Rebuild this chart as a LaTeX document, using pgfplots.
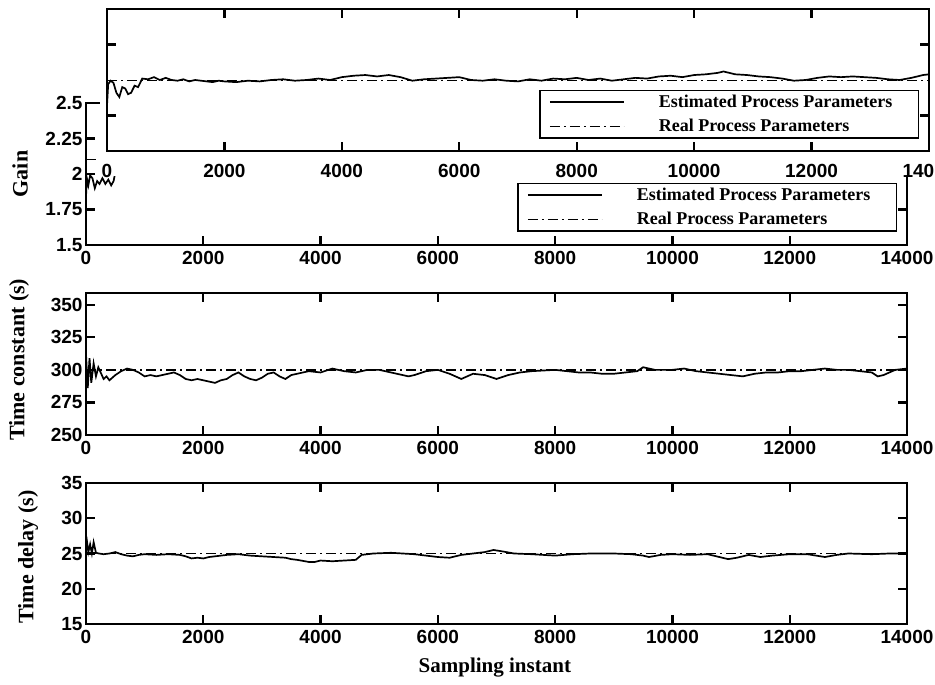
\documentclass[border=0pt]{standalone}
\usepackage{fontspec}
\setmainfont{Liberation Serif}
\newfontfamily\arialfont{Liberation Sans}
\usepackage{pgfplots}
\pgfplotsset{compat=1.18}

\pgfplotstableread{
s v
0 2.57
20 2.72
60 2.745
110 2.73
160 2.66
210 2.63
260 2.70
310 2.69
360 2.65
410 2.66
470 2.71
530 2.70
600 2.76
700 2.755
800 2.77
900 2.75
1000 2.765
1100 2.75
1200 2.745
1300 2.755
1400 2.74
1500 2.75
1600 2.745
1700 2.74
1800 2.735
1900 2.745
2000 2.74
2200 2.735
2400 2.745
2600 2.74
2800 2.75
3000 2.755
3200 2.745
3400 2.75
3600 2.76
3800 2.75
4000 2.77
4200 2.78
4400 2.785
4600 2.775
4800 2.785
5000 2.77
5200 2.745
5400 2.755
5600 2.76
5800 2.765
6000 2.77
6200 2.75
6400 2.745
6600 2.755
6800 2.745
7000 2.74
7200 2.755
7400 2.745
7600 2.76
7800 2.755
8000 2.765
8200 2.75
8400 2.76
8600 2.745
8800 2.755
9000 2.765
9200 2.76
9400 2.775
9600 2.78
9800 2.77
10000 2.785
10200 2.79
10400 2.80
10500 2.81
10700 2.79
10900 2.785
11100 2.775
11300 2.77
11500 2.76
11700 2.745
11900 2.75
12100 2.765
12300 2.775
12500 2.77
12700 2.775
12900 2.77
13100 2.765
13300 2.755
13500 2.75
13700 2.765
13900 2.785
14000 2.79
}\gaintop

\pgfplotstableread{
s v
0 1.84
15 1.97
40 1.92
70 1.99
110 1.97
150 1.90
190 1.95
230 1.93
280 1.97
330 1.93
380 1.96
430 1.92
470 1.95
520 2.05
600 2.10
2000 2.09
4000 2.11
6000 2.10
8000 2.11
10000 2.12
12000 2.10
14000 2.11
}\gainlow

\pgfplotstableread{
s v
0 312
30 286
60 309
90 290
130 305
170 295
210 302
250 298
300 293
350 295
400 292
450 294
500 296
600 299
700 301
800 300
900 298
1000 295
1100 296
1200 295
1300 296
1400 297
1500 298
1600 296
1700 293
1800 292
1900 293
2000 292
2100 291
2200 290
2300 292
2400 293
2500 296
2600 298
2700 295
2800 293
2900 292
3000 294
3100 297
3200 298
3300 295
3400 293
3500 296
3600 297
3800 299
4000 298
4200 301
4400 299
4600 298
4800 300
5000 300
5200 298
5400 296
5500 295
5600 296
5800 299
6000 300
6200 297
6300 295
6400 293
6600 297
6800 296
7000 293
7200 296
7400 298
7600 299
8000 300
8200 299
8400 298
8600 298
8800 297
9000 297
9200 298
9400 299
9500 302
9700 300
10000 300
10200 301
10400 299
10600 298
10800 297
11000 296
11200 295
11400 297
11600 298
11800 298
12000 299
12200 299
12400 300
12600 301
12800 300
13000 300
13200 299
13400 298
13500 295
13600 296
13800 300
14000 301
}\tconst

\pgfplotstableread{
s v
0 25.3
20 26.5
40 25.2
70 26.3
100 25.0
130 26.6
170 25.1
220 25.0
300 24.9
400 25.0
500 25.2
600 24.9
700 24.7
800 24.6
900 24.8
1000 24.9
1200 24.8
1400 24.9
1600 24.8
1700 24.6
1800 24.3
1900 24.4
2000 24.3
2100 24.5
2200 24.6
2400 24.8
2600 24.9
2800 24.7
3000 24.6
3200 24.5
3400 24.4
3500 24.2
3600 24.1
3800 23.8
3900 23.8
4000 24.0
4200 23.9
4400 24.0
4600 24.1
4700 24.8
4900 25.0
5200 25.1
5400 25.0
5600 24.9
5800 24.7
6000 24.5
6200 24.4
6400 24.8
6600 25.0
6800 25.2
6950 25.5
7100 25.3
7300 25.0
7600 24.9
8000 24.7
8300 24.9
8600 25.0
9000 25.0
9300 24.9
9500 24.7
9600 24.5
9800 24.8
10000 24.9
10300 24.8
10600 24.9
10800 24.5
10950 24.2
11100 24.4
11300 24.8
11500 24.5
11700 24.7
12000 24.9
12300 24.9
12600 24.5
12800 24.8
13000 25.0
13400 24.9
13700 25.0
14000 25.0
}\tdelay

% inward tick marks drawn explicitly on all four sides
\newcommand\mxticks{%
  \pgfplotsinvokeforeach{2000,4000,6000,8000,10000,12000}{%
    \draw[black, line width=2.2pt] ({axis cs:##1,0}|-{rel axis cs:0,0}) -- ++(0pt,9pt);
    \draw[black, line width=2.2pt] ({axis cs:##1,0}|-{rel axis cs:0,1}) -- ++(0pt,-9pt);
  }}
\newcommand\myticks[1]{%
  \pgfplotsinvokeforeach{#1}{%
    \draw[black, line width=2.2pt] ({rel axis cs:0,0}|-{axis cs:0,##1}) -- ++(9pt,0pt);
    \draw[black, line width=2.2pt] ({rel axis cs:1,0}|-{axis cs:0,##1}) -- ++(-9pt,0pt);
  }}

\pgfplotsset{
  matlab/.style={
    scale only axis,
    anchor=south west,
    xmin=0, xmax=14000,
    xtick={0,2000,4000,6000,8000,10000,12000,14000},
    scaled x ticks=false,
    scaled y ticks=false,
    /pgf/number format/1000 sep={},
    /pgf/number format/assume math mode=true,
    xtick pos=both, ytick pos=both,
    xtick align=inside, ytick align=inside,
    major tick length=9pt,
    axis line style={line width=2pt},
    every tick/.style={black, line width=1.8pt},
    tick label style={font=\arialfont\bfseries\fontsize{19}{21}\selectfont},
    xticklabel style={yshift=-3pt},
    label style={font=\bfseries\fontsize{22}{24}\selectfont},
    legend image code/.code={\draw[##1] (0pt,0pt) -- (74pt,0pt);},
    legend cell align=left,
  },
  mleg/.style={legend style={at={(axis description cs:0.988,#1)}, anchor=south east,
    draw=black, line width=1.5pt, font=\bfseries\fontsize{18}{20}\selectfont,
    inner xsep=9pt, inner ysep=5pt, row sep=10pt, nodes={inner sep=0pt},
    /tikz/every odd column/.append style={column sep=34pt}}},
  est/.style={black, line width=1.7pt},
  real/.style={black, line width=1.4pt, dash pattern=on 10pt off 4pt on 2pt off 4pt},
}

\begin{document}
\begin{tikzpicture}
\useasboundingbox (0,0) rectangle (935pt,685pt);

% lower (original) gain axes
\begin{axis}[matlab, at={(86pt,440pt)}, width=821pt, height=142pt,
  ymin=1.5, ymax=2.5, ytick={1.5,1.75,2,2.25,2.5},
  ylabel={Gain}, ylabel style={at={(axis description cs:-0.0804,0.5)}, anchor=center},
  mleg=0.0915]
\addplot[est] table[x=s,y=v] {\gainlow};
\addlegendentry{Estimated Process Parameters\hspace*{17pt}}
\addplot[real] coordinates {(0,2.10) (14000,2.10)};
\addlegendentry{Real Process Parameters}
\mxticks
\myticks{1.75,2,2.25}
\end{axis}

% pasted-over white patch
\fill[white] (100pt,509pt) rectangle (935pt,685pt);

% overlay gain axes
\begin{axis}[matlab, at={(107pt,534pt)}, width=822pt, height=142pt,
  ymin=2.25, ymax=3.25, ytick={2.5,3}, yticklabels={},
  xticklabel style={yshift=-7pt},
  mleg=0.0845]
\addplot[est] table[x=s,y=v] {\gaintop};
\addlegendentry{Estimated Process Parameters\hspace*{17pt}}
\addplot[real] coordinates {(0,2.745) (14000,2.745)};
\addlegendentry{Real Process Parameters}
\mxticks
\myticks{2.5,3}
\end{axis}

% time constant
\begin{axis}[matlab, at={(86pt,250pt)}, width=821pt, height=142pt,
  ymin=250, ymax=359, ytick={250,275,300,325,350},
  ylabel={Time constant (s)}, ylabel style={at={(axis description cs:-0.0816,0.53)}, anchor=center}]
\addplot[real] coordinates {(0,300) (14000,300)};
\addplot[est] table[x=s,y=v] {\tconst};
\mxticks
\myticks{275,300,325,350}
\end{axis}

% time delay
\begin{axis}[matlab, at={(86pt,61pt)}, width=821pt, height=141pt,
  ymin=15, ymax=35, ytick={15,20,25,30,35},
  ylabel={Time delay (s)}, ylabel style={at={(axis description cs:-0.0706,0.475)}, anchor=center},
  xlabel={Sampling instant}, xlabel style={at={(axis description cs:0.498,-0.312)}, anchor=center, font=\bfseries\fontsize{21}{23}\selectfont}]
\addplot[real] coordinates {(0,25) (14000,25)};
\addplot[est] table[x=s,y=v] {\tdelay};
\mxticks
\myticks{20,25,30}
\end{axis}
\end{tikzpicture}
\end{document}
